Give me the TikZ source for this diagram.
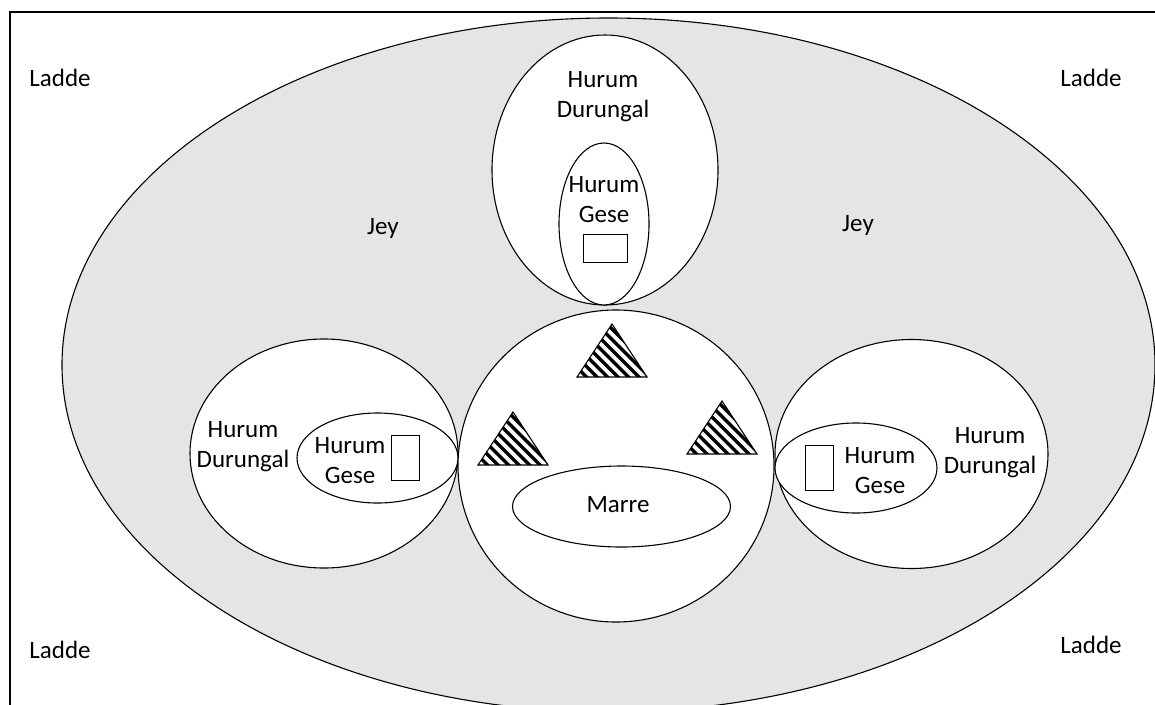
\documentclass[tikz,border=0pt]{standalone}
\usepackage{fontspec}
\setmainfont{Carlito}
\usetikzlibrary{shapes.geometric}
\definecolor{bggray}{RGB}{229,229,229}
\tikzset{
  region/.style={ellipse, draw, fill=white, line width=1.1pt, inner sep=0pt},
  lbl/.style={align=center, font=\fontsize{25}{30}\selectfont, inner sep=0pt},
  slot/.style={draw, fill=white, line width=1pt, inner sep=0pt},
  stripe/.style={line width=3.3pt},
  triedge/.style={line width=1.1pt, line join=miter}
}
\begin{document}
\begin{tikzpicture}[x=1pt,y=-1pt]
\useasboundingbox (0,0) rectangle (1155,704);
\draw[line width=1.4pt] (10,12) rectangle (1175,725);
% outer world
\node[region, fill=bggray, minimum width=1093pt, minimum height=694pt] (world) at (608.5,365) {};
% top house
\node[region, minimum width=226pt, minimum height=270pt] (topdur) at (605,170) {};
\node[region, minimum width=90pt, minimum height=162pt] (topges) at (604,224) {};
\node[slot, minimum width=44pt, minimum height=28pt] (topbox) at (605,248) {};
% left house
\node[region, minimum width=268pt, minimum height=229pt] (leftdur) at (324,453.5) {};
\node[region, minimum width=161pt, minimum height=90pt] (leftges) at (377.5,458) {};
\node[slot, minimum width=28pt, minimum height=45pt] (leftbox) at (405,457.5) {};
% right house
\node[region, minimum width=273pt, minimum height=229pt] (rightdur) at (911.5,454) {};
\node[region, minimum width=162pt, minimum height=90pt] (rightges) at (856,468) {};
\node[slot, minimum width=28pt, minimum height=45pt] (rightbox) at (819,467.5) {};
% centre
\node[region, minimum width=316pt, minimum height=312pt] (centre) at (616,466) {};
\node[region, minimum width=218pt, minimum height=81pt] (marre) at (621.5,506.5) {};
% hatched triangles
\foreach \ax/\ay/\nm in {612/324/tria, 513/412/trib, 722/401/tric}{
  \coordinate (\nm) at (\ax,\ay);
  \begin{scope}
    \clip (\ax,\ay) -- (\ax+35,\ay+53) -- (\ax-35,\ay+53) -- cycle;
    \foreach \k in {-9,...,4}
      \draw[stripe] (\ax+\k*10.5-60,\ay+26-60) -- ++(120,120);
  \end{scope}
  \draw[triedge] (\ax,\ay) -- (\ax+35,\ay+53) -- (\ax-35,\ay+53) -- cycle;
}
% labels
\node[lbl] (l1) at (60,78) {Ladde};
\node[lbl] (l2) at (1091,78) {Ladde};
\node[lbl] (l3) at (60,650) {Ladde};
\node[lbl] (l4) at (1091,645) {Ladde};
\node[lbl] (j1) at (383,228) {Jey};
\node[lbl] (j2) at (858,225) {Jey};
\node[lbl] (td) at (603,97) {Hurum\\Durungal};
\node[lbl] (tg) at (604,200) {Hurum\\Gese};
\node[lbl] (ld) at (243,447) {Hurum\\Durungal};
\node[lbl] (lg) at (350,461) {Hurum\\Gese};
\node[lbl] (rd) at (990,453) {Hurum\\Durungal};
\node[lbl] (rg) at (880,471) {Hurum\\Gese};
\node[lbl] (mt) at (618,505) {Marre};
\end{tikzpicture}
\end{document}
